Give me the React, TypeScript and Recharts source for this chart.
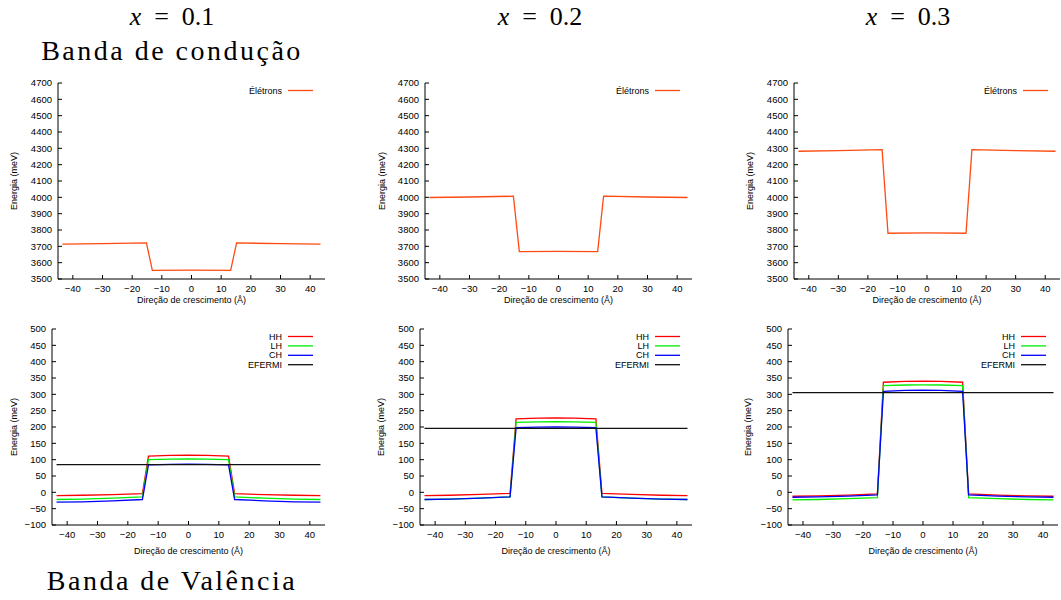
import React from "react"
import { LineChart, Line, XAxis, YAxis, Legend } from "recharts"

// eixo x (Å)
const xTicks = [-40, -30, -20, -10, 0, 10, 20, 30, 40]
const condTicks = [3500, 3600, 3700, 3800, 3900, 4000, 4100, 4200, 4300, 4400, 4500, 4600, 4700]
const valTicks = [-100, -50, 0, 50, 100, 150, 200, 250, 300, 350, 400, 450, 500]

// banda de condução
const xCond = [-43.5, -30, -15.2, -13.2, 0, 13.2, 15.2, 30, 43.5]
const eletrons01 = [3713, 3716, 3721, 3553, 3554, 3553, 3721, 3716, 3713]
const eletrons02 = [3999, 4002, 4007, 3668, 3669, 3668, 4007, 4002, 3999]
const eletrons03 = [4282, 4286, 4292, 3780, 3782, 3780, 4292, 4286, 4282]

// banda de valência
const xVal = [-43.5, -35, -25, -15.2, -13.2, -6, 0, 6, 13.2, 15.2, 25, 35, 43.5]
const xFermi = [-43.5, 43.5]

const hh01 = [-10, -9, -7, -4, 111, 113, 114, 113, 111, -4, -7, -9, -10]
const lh01 = [-22, -21, -18, -14, 100, 101.5, 102, 101.5, 100, -14, -18, -21, -22]
const ch01 = [-30, -29, -26, -22, 84, 85.5, 86, 85.5, 84, -22, -26, -29, -30]
const ef01 = [85, 85]

const hh02 = [-10, -9, -6.5, -3, 225, 227, 227.5, 227, 225, -3, -6.5, -9, -10]
const lh02 = [-22, -21, -18, -14, 214, 215.5, 216, 215.5, 214, -14, -18, -21, -22]
const ch02 = [-22, -21, -18, -14, 198, 199.5, 200, 199.5, 198, -14, -18, -21, -22]
const ef02 = [196, 196]

const hh03 = [-12, -11, -8.5, -5, 337, 339.5, 340, 339.5, 337, -5, -8.5, -11, -12]
const lh03 = [-23, -22, -19.5, -16, 327, 328.5, 329, 328.5, 327, -16, -19.5, -22, -23]
const ch03 = [-15, -14, -11.5, -8, 309, 312, 313, 312, 309, -8, -11.5, -14, -15]
const ef03 = [305, 305]

const FONT = "'Liberation Sans', Arial, Helvetica, sans-serif"
const SERIF = "'Liberation Serif', 'Times New Roman', serif"

const toPoints = (xs: number[], ys: number[]) => xs.map((x, i) => ({ x, y: ys[i] }))
const fmt = (v: number) => (v < 0 ? "\u2212" + Math.abs(v) : String(v))

type Serie = { name: string; color: string; xs: number[]; ys: number[] }

// legenda na ordem das séries (o Legend do recharts ordena por nome)
function renderLegend(series: Serie[]) {
  return (
    <svg width={110} height={series.length * 9.4 + 4} style={{ display: "block" }}>
      {series.map((s, i) => {
        const cy = 7.5 + i * 9.4
        return (
          <g key={s.name}>
            <text x={67} y={cy} textAnchor="end" dominantBaseline="central" fontSize={9} fontFamily={FONT} fill="#000">
              {s.name}
            </text>
            <line x1={73} x2={98} y1={cy} y2={cy} stroke={s.color} strokeWidth={1.3} />
          </g>
        )
      })}
    </svg>
  )
}

function Panel({
  left,
  top,
  w,
  h,
  yDomain,
  yTicks,
  series,
  ylabelOffset,
  xlabelOffset,
}: {
  left: number
  top: number
  w: number
  h: number
  yDomain: [number, number]
  yTicks: number[]
  series: Serie[]
  ylabelOffset: number
  xlabelOffset: number
}) {
  const tickStyle = { fill: "#000", fontSize: 9.5, fontFamily: FONT }
  const axisLine = { stroke: "#000", strokeWidth: 1 }
  return (
    <div style={{ position: "absolute", left: left - 50, top: top - 10 }}>
      <LineChart width={w + 60} height={h + 45} margin={{ top: 10, right: 10, bottom: 0, left: 0 }}>
        <XAxis
          dataKey="x"
          type="number"
          domain={[-45, 45]}
          ticks={xTicks}
          allowDataOverflow
          interval={0}
          height={35}
          tickSize={-4}
          tickMargin={10}
          axisLine={axisLine}
          tickLine={axisLine}
          tick={tickStyle}
          tickFormatter={fmt}
          label={{
            value: "Direção de crescimento (Å)",
            position: "insideBottom",
            offset: xlabelOffset,
            style: { fill: "#000", fontSize: 9, fontFamily: FONT },
          }}
        />
        <XAxis
          xAxisId="top"
          orientation="top"
          type="number"
          domain={[-45, 45]}
          ticks={xTicks}
          allowDataOverflow
          interval={0}
          height={0}
          tickSize={-4}
          axisLine={axisLine}
          tickLine={axisLine}
          tick={false}
        />
        <YAxis
          type="number"
          domain={yDomain}
          ticks={yTicks}
          allowDataOverflow
          interval={0}
          width={50}
          tickSize={-4}
          tickMargin={10}
          axisLine={axisLine}
          tickLine={axisLine}
          tick={tickStyle}
          tickFormatter={fmt}
          label={{
            value: "Energia (meV)",
            angle: -90,
            position: "insideLeft",
            offset: ylabelOffset,
            style: { fill: "#000", fontSize: 9, fontFamily: FONT, textAnchor: "middle" },
          }}
        />
        <YAxis
          yAxisId="right"
          orientation="right"
          type="number"
          domain={yDomain}
          ticks={yTicks}
          allowDataOverflow
          interval={0}
          width={0}
          tickSize={-4}
          axisLine={axisLine}
          tickLine={axisLine}
          tick={false}
        />
        <Legend
          layout="vertical"
          align="center"
          verticalAlign="middle"
          content={() => renderLegend(series)}
          wrapperStyle={{ left: 50 + w - 110, top: 10, width: 110 }}
        />
        {series.map((s) => (
          <Line
            key={s.name}
            data={toPoints(s.xs, s.ys)}
            dataKey="y"
            name={s.name}
            type="linear"
            stroke={s.color}
            strokeWidth={1.3}
            dot={false}
            activeDot={false}
            isAnimationActive={false}
          />
        ))}
      </LineChart>
    </div>
  )
}

const ORANGE = "#ff4a10"

const valSeries = (hh: number[], lh: number[], ch: number[], ef: number[]): Serie[] => [
  { name: "HH", color: "#ff0000", xs: xVal, ys: hh },
  { name: "LH", color: "#00ee00", xs: xVal, ys: lh },
  { name: "CH", color: "#0000ff", xs: xVal, ys: ch },
  { name: "EFERMI", color: "#111111", xs: xFermi, ys: ef },
]

export default function App() {
  return (
    <div style={{ position: "absolute", left: 0, top: 0, width: 1061, height: 600, background: "#fff", overflow: "hidden" }}>
      <Panel left={58} top={83} w={267} h={196} yDomain={[3500, 4700]} yTicks={condTicks} ylabelOffset={6} xlabelOffset={11}
        series={[{ name: "Élétrons", color: ORANGE, xs: xCond, ys: eletrons01 }]} />
      <Panel left={425} top={83} w={267} h={196} yDomain={[3500, 4700]} yTicks={condTicks} ylabelOffset={7} xlabelOffset={11}
        series={[{ name: "Élétrons", color: ORANGE, xs: xCond, ys: eletrons02 }]} />
      <Panel left={794} top={83} w={266} h={196} yDomain={[3500, 4700]} yTicks={condTicks} ylabelOffset={6} xlabelOffset={11}
        series={[{ name: "Élétrons", color: ORANGE, xs: xCond, ys: eletrons03 }]} />

      <Panel left={52} top={329} w={273} h={196} yDomain={[-100, 500]} yTicks={valTicks} ylabelOffset={12} xlabelOffset={6}
        series={valSeries(hh01, lh01, ch01, ef01)} />
      <Panel left={420} top={329} w={272} h={196} yDomain={[-100, 500]} yTicks={valTicks} ylabelOffset={11} xlabelOffset={6}
        series={valSeries(hh02, lh02, ch02, ef02)} />
      <Panel left={788} top={329} w={270} h={196} yDomain={[-100, 500]} yTicks={valTicks} ylabelOffset={10} xlabelOffset={6}
        series={valSeries(hh03, lh03, ch03, ef03)} />

      <svg width={1061} height={600} style={{ position: "absolute", left: 0, top: 0, pointerEvents: "none" }}>
        <g fontFamily={SERIF} fill="#000">
          {[["0.1", 172], ["0.2", 540], ["0.3", 908]].map(([v, cx]) => (
            <text key={v as string} x={cx as number} y={25} textAnchor="middle" fontSize={26}>
              <tspan fontStyle="italic">x</tspan>
              <tspan>{"\u2002=\u2002" + v}</tspan>
            </text>
          ))}
          <text x={172} y={60} textAnchor="middle" fontSize={28} letterSpacing={2.5}>Banda de condução</text>
          <text x={172} y={590} textAnchor="middle" fontSize={28} letterSpacing={2.5}>Banda de Valência</text>
        </g>
      </svg>
    </div>
  )
}
